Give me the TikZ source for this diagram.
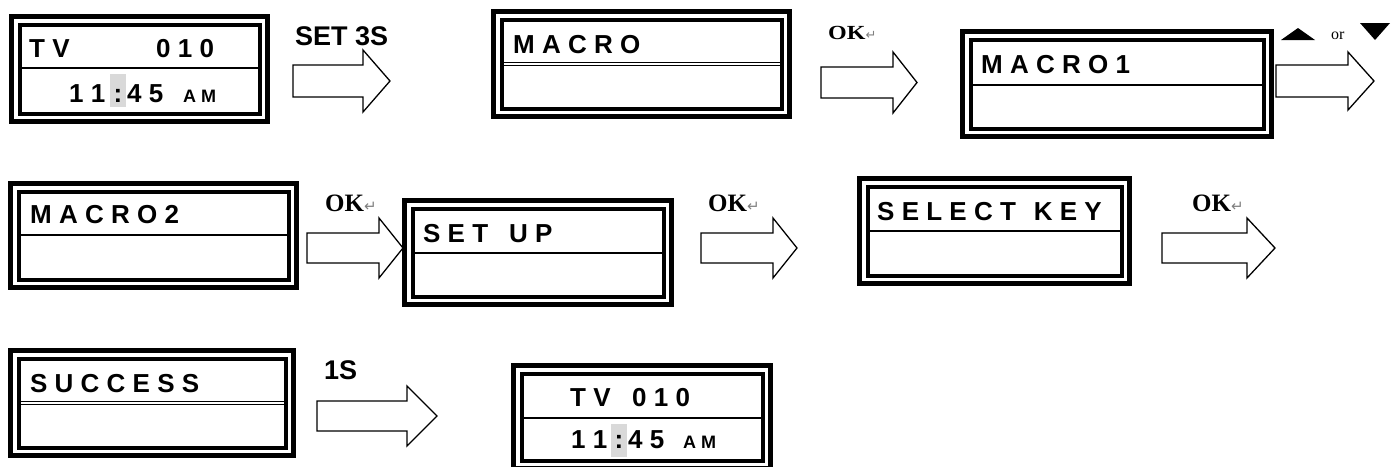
\documentclass[tikz,border=0pt]{standalone}
\usepackage{fontspec}
\setmainfont{Liberation Sans}
\newfontfamily\okfont{Liberation Serif}
\newfontfamily\symfont{DejaVu Sans}
\newcommand\lcdscreen[7]{%
  \draw[line width=5] ({#2+2.5},{#3+2.5}) rectangle ({#4-2.5},{#5-2.5});
  \draw[line width=4] ({#2+10.5},{#3+10.5}) rectangle ({#4-10.5},{#5-10.5});
  \ifnum#7=1
    \draw[line width=1] ({#2+12},{#6-1.2}) -- ({#4-12},{#6-1.2});
    \draw[line width=1] ({#2+12},{#6+1.2}) -- ({#4-12},{#6+1.2});
  \else
    \draw[line width=1.6] ({#2+12},#6) -- ({#4-12},#6);
  \fi
  \coordinate (#1) at (#2,#3);
}
\newcommand\oksym{OK{\symfont\mdseries\color{black!50}\fontsize{15}{16}\selectfont ↵}}
\begin{document}
\begin{tikzpicture}[x=1pt,y=-1pt,
  lcdtext/.style={anchor=base west, inner sep=0, font=\fontsize{26}{30}\selectfont\bfseries},
  amtext/.style={anchor=base west, inner sep=0, font=\fontsize{18}{22}\selectfont\bfseries},
  labeltext/.style={anchor=base west, inner sep=0, font=\fontsize{27}{30}\selectfont\bfseries},
  oklabel/.style={anchor=base west, inner sep=0, font=\fontsize{25}{28}\selectfont\okfont\bfseries},
  blockarrow/.style={draw, line width=1.3, line join=miter, fill=white},
  hl/.style={fill=black!15, draw=none}
]
\useasboundingbox (0,0) rectangle (1394,466);
\clip (0,0) rectangle (1394,466);

% block arrows
\draw[blockarrow] (293,65) -- (363,65) -- (363,50) -- (390,81) -- (363,112) -- (363,97) -- (293,97) -- cycle;
\draw[blockarrow] (821,67) -- (893,67) -- (893,52) -- (917,82.5) -- (893,113) -- (893,98) -- (821,98) -- cycle;
\draw[blockarrow] (1276,65) -- (1348,65) -- (1348,52) -- (1374,81) -- (1348,110) -- (1348,97) -- (1276,97) -- cycle;
\draw[blockarrow] (307,233) -- (379,233) -- (379,218) -- (403,248) -- (379,278) -- (379,263) -- (307,263) -- cycle;
\draw[blockarrow] (701,233) -- (773,233) -- (773,218) -- (797,248) -- (773,278) -- (773,263) -- (701,263) -- cycle;
\draw[blockarrow] (1162,233) -- (1247,233) -- (1247,218) -- (1275,248) -- (1247,278) -- (1247,263) -- (1162,263) -- cycle;
\draw[blockarrow] (317,401) -- (407,401) -- (407,386) -- (437,416) -- (407,446) -- (407,431) -- (317,431) -- cycle;

% screens
\lcdscreen{s1}{9}{14}{270}{124}{68}{0}
\lcdscreen{s2}{491}{9}{792}{119}{64}{1}
\lcdscreen{s3}{960}{29}{1274}{139}{85}{0}
\lcdscreen{s4}{8}{181}{299}{290}{235}{0}
\lcdscreen{s5}{402}{198}{674}{307}{253}{0}
\lcdscreen{s6}{857}{176}{1132}{286}{231}{0}
\lcdscreen{s7}{8}{348}{296}{458}{403}{1}
\lcdscreen{s8}{511}{363}{773}{471}{418}{0}

% colon highlights
\fill[hl] (110,74) rectangle (126,107);
\fill[hl] (611,424) rectangle (627,457);

% screen texts
\node[lcdtext] (t1a) at (29,57) {T V};
\node[lcdtext] (t1b) at (156,57) {0 1 0};
\node[lcdtext] (t1c) at (69,102) {1 1};
\node[lcdtext, anchor=base] (t1d) at (118,102) {:};
\node[lcdtext] (t1e) at (127,102) {4 5};
\node[amtext] (t1f) at (183,102) {A M};

\node[lcdtext] (t2) at (513,53) {M A C R O};
\node[lcdtext] (t3) at (981,73) {M A C R O 1};
\node[lcdtext] (t4) at (30,223) {M A C R O 2};
\node[lcdtext] (t5) at (423,242) {S E T\hspace{21pt}U P};
\node[lcdtext] (t6) at (877,220) {S E L E C T\hspace{18pt}K E Y};
\node[lcdtext] (t7) at (30,392) {S U C C E S S};

\node[lcdtext] (t8a) at (570,406) {T V};
\node[lcdtext] (t8b) at (632,406) {0 1 0};
\node[lcdtext] (t8c) at (571,448) {1 1};
\node[lcdtext, anchor=base] (t8d) at (619,448) {:};
\node[lcdtext] (t8e) at (628,448) {4 5};
\node[amtext] (t8f) at (683,448) {A M};

% arrow labels
\node[labeltext] (l1) at (295,45) {SET 3S};
\node[labeltext] (l7) at (324,379) {1S};
\node[oklabel, font=\fontsize{20}{24}\selectfont\okfont\bfseries] (l2) at (828,39) {\scalebox{1.2}[1]{OK}{\symfont\mdseries\color{black!50}\fontsize{13}{14}\selectfont ↵}};
\node[oklabel] (l4) at (325,211) {\oksym};
\node[oklabel] (l5) at (708,211) {\oksym};
\node[oklabel] (l6) at (1192,211) {\oksym};

% up or down
\fill (1281,40) -- (1315,40) -- (1298,28) -- cycle;
\fill (1360,23) -- (1390,23) -- (1375,40) -- cycle;
\node[anchor=base west, inner sep=0, font=\fontsize{16}{18}\selectfont\okfont] (l3) at (1331,39) {or};
\end{tikzpicture}
\end{document}
